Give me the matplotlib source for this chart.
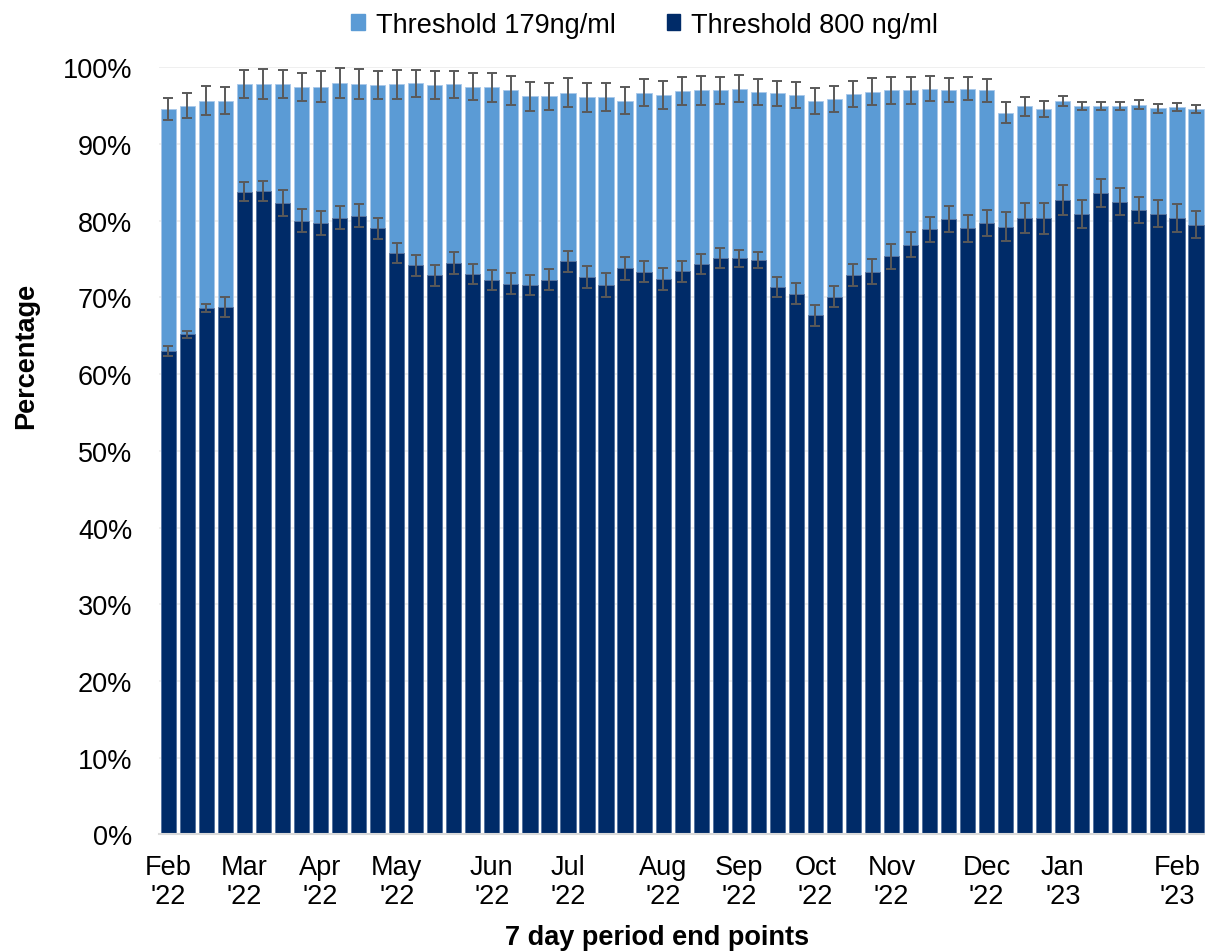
import matplotlib
matplotlib.use("Agg")
import matplotlib.pyplot as plt
from matplotlib.patches import Patch
import numpy as np

plt.rcParams["font.family"] = ["Liberation Sans", "DejaVu Sans"]

# weekly values (percent)
light_vals = [
    94.6, 95.0, 95.65, 95.65, 97.8, 97.8, 97.8, 97.4, 97.5, 97.9, 97.8, 97.7, 97.8, 97.9, 97.7, 97.8, 97.5, 97.4, 97.0,
    96.2, 96.2, 96.7, 96.1, 96.1, 95.65, 96.7, 96.4, 96.9, 97.0, 97.0, 97.2, 96.8, 96.6, 96.4, 95.6, 95.9,
    96.5, 96.8, 97.0, 97.0, 97.2, 97.0, 97.2, 97.0, 94.1, 94.9, 94.6, 95.6, 95.0, 95.0, 95.0, 95.1, 94.65, 94.8, 94.6,
]
light_err = [
    1.45, 1.65, 1.87, 1.74, 1.85, 1.96, 1.85, 1.83, 2.0, 1.96, 1.96, 1.8, 1.9, 1.8, 1.8, 1.78, 1.8, 1.87, 1.9,
    1.9, 1.8, 1.9, 1.87, 1.83, 1.78, 1.78, 1.85, 1.8, 1.85, 1.8, 1.74, 1.7, 1.67, 1.74, 1.7, 1.7,
    1.7, 1.76, 1.74, 1.74, 1.65, 1.57, 1.52, 1.52, 1.39, 1.2, 1.04, 0.7, 0.54, 0.52, 0.54, 0.59, 0.59, 0.54, 0.54,
]
dark_vals = [
    63.05, 65.2, 68.6, 68.7, 83.8, 83.9, 82.3, 80.0, 79.7, 80.4, 80.65, 79.0, 75.8, 74.2, 72.9, 74.5, 73.1, 72.3, 71.8,
    71.6, 72.3, 74.7, 72.65, 71.6, 73.8, 73.35, 72.35, 73.4, 74.4, 75.1, 75.1, 74.9, 71.4, 70.5, 67.65, 70.1,
    72.9, 73.35, 75.35, 76.9, 78.9, 80.2, 79.0, 79.7, 79.2, 80.35, 80.3, 82.7, 80.9, 83.6, 82.5, 81.4, 80.9, 80.35, 79.5,
]
dark_err = [
    0.67, 0.48, 0.54, 1.3, 1.2, 1.3, 1.7, 1.5, 1.54, 1.48, 1.48, 1.41, 1.35, 1.35, 1.37, 1.39, 1.3, 1.3, 1.35,
    1.26, 1.35, 1.33, 1.43, 1.57, 1.52, 1.39, 1.43, 1.35, 1.3, 1.28, 1.13, 1.07, 1.3, 1.41, 1.37, 1.35,
    1.46, 1.63, 1.6, 1.6, 1.65, 1.7, 1.8, 1.67, 1.9, 1.9, 2.0, 1.96, 1.8, 1.78, 1.78, 1.65, 1.76, 1.78, 1.72,
]

tick_idx = [0, 4, 8, 12, 17, 21, 26, 30, 34, 38, 43, 47, 53]
tick_labels = ["Feb\n'22", "Mar\n'22", "Apr\n'22", "May\n'22", "Jun\n'22", "Jul\n'22", "Aug\n'22",
               "Sep\n'22", "Oct\n'22", "Nov\n'22", "Dec\n'22", "Jan\n'23", "Feb\n'23"]

LIGHT = "#5B9BD5"
DARK = "#002B68"
ERR = "#595959"
FS = 19.5

fig = plt.figure(figsize=(12.05, 9.53), dpi=100)
ax = fig.add_axes([0.1318, 0.1235, 0.8686, 0.8048])

x = np.arange(len(light_vals))
ax.bar(x, light_vals, width=0.8, color=LIGHT, edgecolor="#a9c8ea", linewidth=0.6, zorder=2)
ax.bar(x, dark_vals, width=0.8, color=DARK, edgecolor="#5a76a0", linewidth=0.6, zorder=3)
ax.errorbar(x, light_vals, yerr=light_err, fmt="none", ecolor=ERR, elinewidth=1.4,
            capsize=3.8, capthick=1.4, zorder=4, clip_on=False)
ax.errorbar(x, dark_vals, yerr=dark_err, fmt="none", ecolor=ERR, elinewidth=1.4,
            capsize=3.8, capthick=1.4, zorder=4, clip_on=False)

ax.set_xlim(-0.5, len(light_vals) - 0.5)
ax.set_ylim(0, 100)
ax.set_yticks(np.arange(0, 101, 10))
ax.set_yticklabels([f"{v}%" for v in range(0, 101, 10)], fontsize=FS)
ax.set_xticks(tick_idx)
ax.set_xticklabels(tick_labels, fontsize=FS, linespacing=1.18)
ax.tick_params(axis="y", length=0, pad=19)
ax.tick_params(axis="x", length=0, pad=14)
ax.grid(axis="y", color="#ececec", linewidth=1.2, zorder=0)
ax.set_axisbelow(True)
for side in ["top", "right", "left"]:
    ax.spines[side].set_visible(False)
ax.spines["bottom"].set_color("#d9d9d9")
ax.spines["bottom"].set_linewidth(1.5)
ax.spines["bottom"].set_zorder(5)

fig.text(0.545, 0.016, "7 day period end points", ha="center", va="center",
         fontsize=FS, fontweight="bold")
fig.text(0.022, 0.627, "Percentage", ha="center", va="center", rotation=90,
         fontsize=FS, fontweight="bold")

handles = [Patch(color=LIGHT), Patch(color=DARK)]
fig.legend(handles, ["Threshold 179ng/ml", "Threshold 800 ng/ml"], loc="center",
           bbox_to_anchor=(0.535, 0.973), ncol=2, frameon=False, fontsize=FS,
           handlelength=0.5, handleheight=0.5, handletextpad=0.4, columnspacing=1.9)

fig.savefig("out.png", dpi=100)
